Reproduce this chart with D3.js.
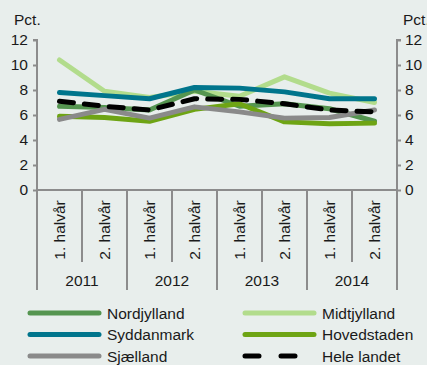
<!DOCTYPE html>
<html>
<head>
<meta charset="utf-8">
<script src="https://cdn.jsdelivr.net/npm/d3@7/dist/d3.min.js"></script>
<style>
  html, body { margin: 0; padding: 0; background: #e8eeec; }
  svg { display: block; font-family: "Liberation Sans", Arial, sans-serif; }
</style>
</head>
<body>
<svg id="chart" width="427" height="365"></svg>
<script>
// Half-year periods and years
const years = ["2011", "2012", "2013", "2014"];
const halves = ["1. halvår", "2. halvår"];
const periods = years.flatMap(y => halves.map(h => y + " " + h));

// Shares in percent per region
const nordjylland = [6.7, 6.6, 6.4, 8.0, 6.7, 6.9, 6.5, 5.5];
const midtjylland = [10.4, 7.9, 7.4, 7.9, 7.5, 9.05, 7.75, 7.0];
const syddanmark  = [7.8, 7.55, 7.3, 8.2, 8.15, 7.85, 7.3, 7.3];
const hovedstaden = [5.9, 5.8, 5.5, 6.45, 6.9, 5.45, 5.3, 5.35];
const sjaelland   = [5.65, 6.45, 5.75, 6.65, 6.25, 5.75, 5.8, 6.4];
const heleLandet  = [7.1, 6.7, 6.4, 7.3, 7.25, 6.9, 6.4, 6.25];

const yTicks = [0, 2, 4, 6, 8, 10, 12];

const series = [
  { name: "Nordjylland", values: nordjylland, color: "#559550", dash: null },
  { name: "Midtjylland", values: midtjylland, color: "#b2dc8c", dash: null },
  { name: "Syddanmark",  values: syddanmark,  color: "#00758c", dash: null },
  { name: "Hovedstaden", values: hovedstaden, color: "#6ea414", dash: null },
  { name: "Sjælland",    values: sjaelland,   color: "#8a8a8a", dash: null },
  { name: "Hele landet", values: heleLandet,  color: "#000000", dash: "14,11" }
];
// drawing order: back to front
const drawOrder = ["Midtjylland", "Nordjylland", "Hovedstaden", "Syddanmark", "Sjælland", "Hele landet"];

const svg = d3.select("#chart");
const plotLeft = 37, plotRight = 397, plotTop = 40, plotBottom = 190;
const axisColor = "#8c8c8c";
const textColor = "#1a1a1a";
const fontSize = "15.5px";

const x = d3.scaleBand().domain(periods).range([plotLeft, plotRight]);
const xYear = d3.scaleBand().domain(years).range([plotLeft, plotRight]);
const y = d3.scaleLinear().domain([0, 12]).range([plotBottom, plotTop]);

// Lines
const line = d3.line()
  .x((d, i) => x(periods[i]) + x.bandwidth() / 2)
  .y(d => y(d));

const g = svg.append("g");
drawOrder.forEach(name => {
  const s = series.find(d => d.name === name);
  g.append("path")
    .datum(s.values)
    .attr("d", line)
    .attr("fill", "none")
    .attr("stroke", s.color)
    .attr("stroke-width", 5)
    .attr("stroke-linejoin", "round")
    .attr("stroke-linecap", "round")
    .attr("stroke-dasharray", s.dash);
});

// Left y axis
const yl = svg.append("g").attr("transform", `translate(${plotLeft},0)`)
  .call(d3.axisLeft(y).tickValues(yTicks).tickSize(4).tickPadding(5).tickFormat(d3.format("d")));
// Right y axis
const yr = svg.append("g").attr("transform", `translate(${plotRight},0)`)
  .call(d3.axisRight(y).tickValues(yTicks).tickSize(4).tickPadding(4).tickFormat(d3.format("d")));
[[yl, -4], [yr, 4]].forEach(([a, t]) => {
  a.select(".domain").attr("stroke", axisColor).attr("stroke-width", 2)
    .attr("d", `M${t},${plotTop}H0V${plotBottom}`);
  a.selectAll(".tick line").attr("stroke", axisColor).attr("stroke-width", 2);
  a.selectAll(".tick text").attr("fill", textColor).style("font-size", fontSize);
});

// Units
svg.append("text").attr("x", 14).attr("y", 25).text("Pct.")
  .attr("fill", textColor).style("font-size", fontSize);
svg.append("text").attr("x", 403).attr("y", 25).text("Pct.")
  .attr("fill", textColor).style("font-size", fontSize);

// X axis baseline
svg.append("line").attr("x1", plotLeft).attr("x2", plotRight)
  .attr("y1", plotBottom).attr("y2", plotBottom)
  .attr("stroke", axisColor).attr("stroke-width", 2);

// Separators between half-years, and half-year labels
const xg = svg.append("g");
periods.forEach((p, i) => {
  if (i % 2 === 1) {
    xg.append("line")
      .attr("x1", x(p)).attr("x2", x(p))
      .attr("y1", plotBottom).attr("y2", 262)
      .attr("stroke", axisColor).attr("stroke-width", 2);
  }
  const cx = x(p) + x.bandwidth() / 2;
  xg.append("text")
    .attr("transform", `translate(${cx + 5.5},230) rotate(-90)`)
    .attr("text-anchor", "middle")
    .attr("fill", textColor)
    .style("font-size", fontSize)
    .text(halves[i % 2]);
});
// Separators between years
years.concat(["end"]).forEach((yv, i) => {
  const xx = i < years.length ? xYear(yv) : plotRight;
  xg.append("line")
    .attr("x1", xx).attr("x2", xx)
    .attr("y1", plotBottom).attr("y2", 290)
    .attr("stroke", axisColor).attr("stroke-width", 2);
});
years.forEach(yv => {
  xg.append("text")
    .attr("x", xYear(yv) + xYear.bandwidth() / 2)
    .attr("y", 286)
    .attr("text-anchor", "middle")
    .attr("fill", textColor)
    .style("font-size", fontSize)
    .text(yv);
});

// Legend
const legendRows = [
  ["Nordjylland", "Midtjylland"],
  ["Syddanmark", "Hovedstaden"],
  ["Sjælland", "Hele landet"]
];
const colX = [30, 245];
legendRows.forEach((row, r) => {
  row.forEach((name, c) => {
    const s = series.find(d => d.name === name);
    const ly = 313 + r * 21.5;
    svg.append("line")
      .attr("x1", colX[c]).attr("x2", colX[c] + 69)
      .attr("y1", ly).attr("y2", ly)
      .attr("stroke", s.color).attr("stroke-width", 5)
      .attr("stroke-linecap", "round")
      .attr("stroke-dasharray", s.dash ? "14,22" : null);
    svg.append("text")
      .attr("x", colX[c] + 77).attr("y", ly + 5.5)
      .attr("fill", textColor)
      .style("font-size", fontSize)
      .text(name);
  });
});
</script>
</body>
</html>
